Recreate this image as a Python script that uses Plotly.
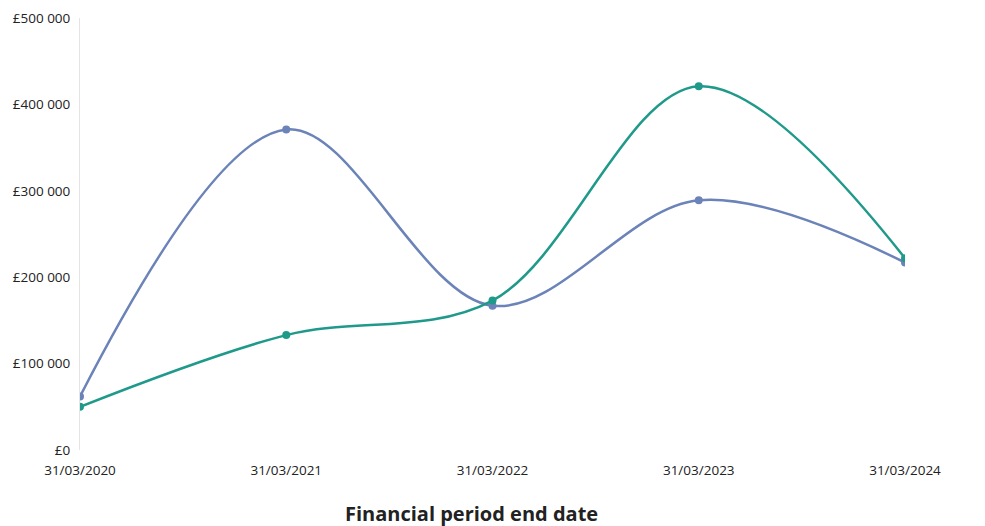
import plotly.graph_objects as go

dates = ["31/03/2020", "31/03/2021", "31/03/2022", "31/03/2023", "31/03/2024"]
series_blue = [62000, 371000, 167000, 289000, 217000]
series_green = [50000, 133000, 173000, 421000, 222000]
y_tickvals = [0, 100000, 200000, 300000, 400000, 500000]
y_ticktext = ["£0", "£100 000", "£200 000", "£300 000", "£400 000", "£500 000"]
x_title = "Financial period end date"

blue = "#6b83b8"
green = "#1f9a8a"
FONT = "Open Sans, Arial, sans-serif"

fig = go.Figure()
fig.add_trace(go.Scatter(
    x=dates, y=series_blue, mode="lines+markers",
    line=dict(color=blue, width=2.5, shape="spline", smoothing=1.0),
    marker=dict(color=blue, size=8), showlegend=False))
fig.add_trace(go.Scatter(
    x=dates, y=series_green, mode="lines+markers",
    line=dict(color=green, width=2.5, shape="spline", smoothing=1.0),
    marker=dict(color=green, size=8), showlegend=False))

fig.update_layout(
    width=977, height=518,
    margin=dict(l=72, r=80, t=10, b=76),
    paper_bgcolor="white", plot_bgcolor="white",
    font=dict(family=FONT, size=13, color="#222222"),
    xaxis=dict(type="category", range=[0, 4], showgrid=False, zeroline=False,
               showline=False, ticks="outside", ticklen=8, tickcolor="white",
               automargin=False, tickfont=dict(size=13.5, color="#222222")),
    yaxis=dict(range=[0, 500000], tickvals=y_tickvals, ticktext=y_ticktext,
               showgrid=False, zeroline=False, showline=True,
               linecolor="#e4e4e4", linewidth=1, ticks="outside", ticklen=6,
               automargin=False,
               tickcolor="white", tickfont=dict(size=13.5, color="#222222")),
    annotations=[dict(text="<b>" + x_title + "</b>", xref="paper", yref="paper",
                      x=(471 - 80) / 825, y=0, yshift=-63, xanchor="center", yanchor="middle",
                      showarrow=False, font=dict(size=20, color="#222222", family=FONT))],
)

fig.write_html("out.html")
